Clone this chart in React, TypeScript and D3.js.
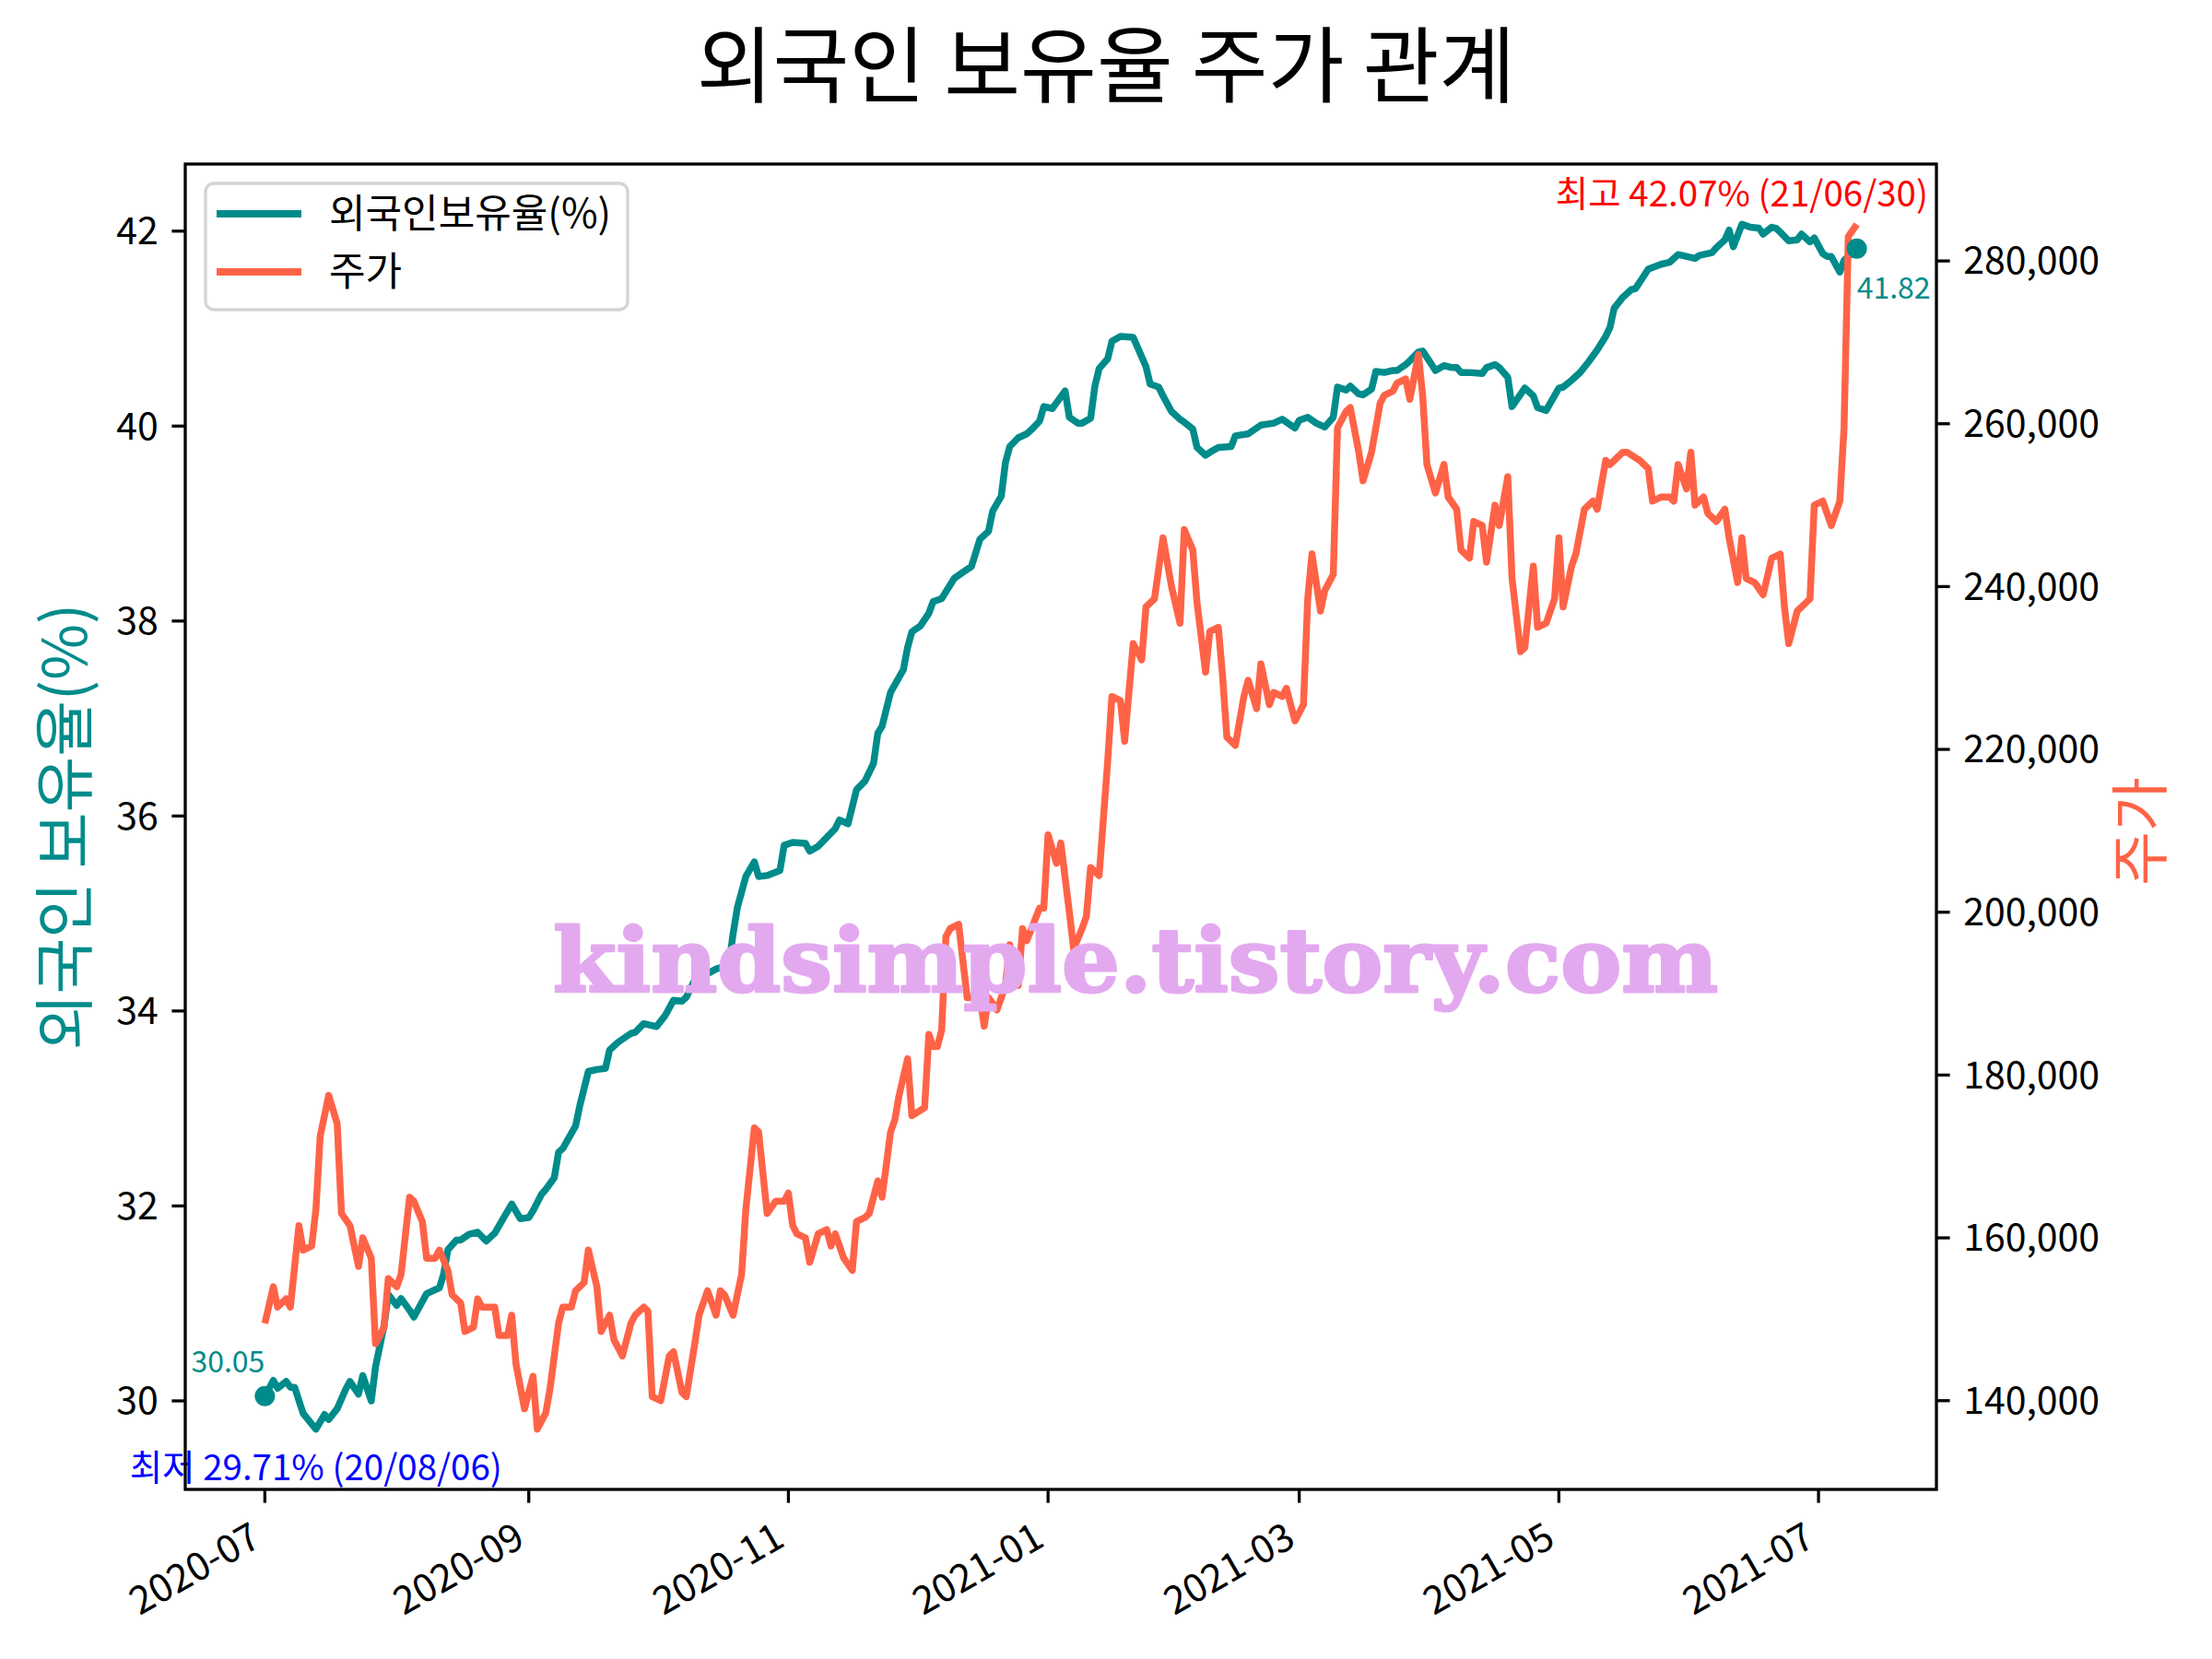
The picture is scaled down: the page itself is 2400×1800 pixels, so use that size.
import * as d3 from 'd3'

// 외국인 보유율(%)
const foreignRatio: [string, number][] = [
  ['2020-07-01', 30.05], ['2020-07-03', 30.21], ['2020-07-04', 30.13], ['2020-07-06', 30.2],
  ['2020-07-07', 30.14], ['2020-07-08', 30.14], ['2020-07-10', 29.87], ['2020-07-13', 29.71],
  ['2020-07-15', 29.86], ['2020-07-16', 29.81], ['2020-07-18', 29.92], ['2020-07-20', 30.12],
  ['2020-07-21', 30.2], ['2020-07-23', 30.07], ['2020-07-24', 30.26], ['2020-07-26', 30.0],
  ['2020-07-27', 30.35], ['2020-07-29', 30.77], ['2020-07-30', 31.09], ['2020-08-01', 30.98],
  ['2020-08-02', 31.05], ['2020-08-04', 30.93], ['2020-08-05', 30.86], ['2020-08-08', 31.1],
  ['2020-08-11', 31.16], ['2020-08-12', 31.3], ['2020-08-13', 31.55], ['2020-08-15', 31.65],
  ['2020-08-16', 31.65], ['2020-08-18', 31.71], ['2020-08-20', 31.73], ['2020-08-22', 31.64],
  ['2020-08-24', 31.72], ['2020-08-26', 31.87], ['2020-08-28', 32.02], ['2020-08-30', 31.87],
  ['2020-09-01', 31.88], ['2020-09-02', 31.95], ['2020-09-04', 32.12], ['2020-09-05', 32.17],
  ['2020-09-07', 32.29], ['2020-09-08', 32.55], ['2020-09-09', 32.59], ['2020-09-12', 32.82],
  ['2020-09-13', 33.03], ['2020-09-15', 33.38], ['2020-09-17', 33.4], ['2020-09-19', 33.41],
  ['2020-09-20', 33.6], ['2020-09-22', 33.68], ['2020-09-25', 33.77], ['2020-09-26', 33.78],
  ['2020-09-28', 33.87], ['2020-10-01', 33.84], ['2020-10-03', 33.95], ['2020-10-05', 34.11],
  ['2020-10-07', 34.1], ['2020-10-08', 34.14], ['2020-10-10', 34.32], ['2020-10-12', 34.36],
  ['2020-10-15', 34.43], ['2020-10-18', 34.47], ['2020-10-19', 34.79], ['2020-10-20', 35.06],
  ['2020-10-22', 35.38], ['2020-10-24', 35.53], ['2020-10-25', 35.38], ['2020-10-27', 35.39],
  ['2020-10-30', 35.44], ['2020-10-31', 35.7], ['2020-11-02', 35.73], ['2020-11-05', 35.72],
  ['2020-11-06', 35.64], ['2020-11-08', 35.69], ['2020-11-10', 35.78], ['2020-11-12', 35.87],
  ['2020-11-13', 35.96], ['2020-11-15', 35.92], ['2020-11-17', 36.27], ['2020-11-19', 36.36],
  ['2020-11-21', 36.54], ['2020-11-22', 36.85], ['2020-11-23', 36.92], ['2020-11-25', 37.27],
  ['2020-11-28', 37.5], ['2020-11-29', 37.73], ['2020-11-30', 37.89], ['2020-12-02', 37.95],
  ['2020-12-04', 38.08], ['2020-12-05', 38.2], ['2020-12-07', 38.23], ['2020-12-10', 38.44],
  ['2020-12-12', 38.5], ['2020-12-14', 38.56], ['2020-12-16', 38.84], ['2020-12-18', 38.92],
  ['2020-12-19', 39.13], ['2020-12-21', 39.28], ['2020-12-22', 39.63], ['2020-12-23', 39.79],
  ['2020-12-25', 39.88], ['2020-12-27', 39.92], ['2020-12-28', 39.96], ['2020-12-30', 40.05],
  ['2020-12-31', 40.2], ['2021-01-02', 40.18], ['2021-01-03', 40.24], ['2021-01-05', 40.36],
  ['2021-01-06', 40.09], ['2021-01-08', 40.03], ['2021-01-09', 40.03], ['2021-01-11', 40.08],
  ['2021-01-12', 40.41], ['2021-01-13', 40.59], ['2021-01-15', 40.69], ['2021-01-16', 40.87],
  ['2021-01-18', 40.92], ['2021-01-21', 40.91], ['2021-01-24', 40.61], ['2021-01-25', 40.43],
  ['2021-01-27', 40.4], ['2021-01-28', 40.31], ['2021-01-30', 40.15], ['2021-02-01', 40.07],
  ['2021-02-02', 40.04], ['2021-02-04', 39.97], ['2021-02-05', 39.78], ['2021-02-07', 39.7],
  ['2021-02-08', 39.73], ['2021-02-10', 39.78], ['2021-02-13', 39.79], ['2021-02-14', 39.9],
  ['2021-02-17', 39.92], ['2021-02-20', 40.01], ['2021-02-23', 40.03], ['2021-02-25', 40.07],
  ['2021-02-28', 39.98], ['2021-03-01', 40.06], ['2021-03-03', 40.09], ['2021-03-05', 40.03],
  ['2021-03-07', 39.99], ['2021-03-09', 40.09], ['2021-03-10', 40.4], ['2021-03-12', 40.37],
  ['2021-03-13', 40.41], ['2021-03-15', 40.33], ['2021-03-16', 40.32], ['2021-03-18', 40.38],
  ['2021-03-19', 40.56], ['2021-03-21', 40.55], ['2021-03-23', 40.57], ['2021-03-24', 40.57],
  ['2021-03-26', 40.63], ['2021-03-27', 40.67], ['2021-03-29', 40.76], ['2021-03-30', 40.77],
  ['2021-04-01', 40.64], ['2021-04-02', 40.57], ['2021-04-04', 40.62], ['2021-04-06', 40.6],
  ['2021-04-07', 40.6], ['2021-04-08', 40.55], ['2021-04-10', 40.55], ['2021-04-13', 40.54],
  ['2021-04-14', 40.6], ['2021-04-16', 40.63], ['2021-04-17', 40.6], ['2021-04-19', 40.5],
  ['2021-04-20', 40.2], ['2021-04-23', 40.39], ['2021-04-25', 40.31], ['2021-04-26', 40.19],
  ['2021-04-28', 40.16], ['2021-05-01', 40.39], ['2021-05-02', 40.4], ['2021-05-04', 40.47],
  ['2021-05-06', 40.55], ['2021-05-08', 40.66], ['2021-05-10', 40.78], ['2021-05-12', 40.92],
  ['2021-05-13', 41.01], ['2021-05-14', 41.21], ['2021-05-16', 41.32], ['2021-05-18', 41.4],
  ['2021-05-19', 41.41], ['2021-05-22', 41.61], ['2021-05-25', 41.66], ['2021-05-27', 41.68],
  ['2021-05-29', 41.76], ['2021-06-02', 41.72], ['2021-06-03', 41.75], ['2021-06-06', 41.78],
  ['2021-06-07', 41.83], ['2021-06-09', 41.91], ['2021-06-10', 42.01], ['2021-06-11', 41.84],
  ['2021-06-13', 42.07], ['2021-06-15', 42.04], ['2021-06-17', 42.03], ['2021-06-18', 41.97],
  ['2021-06-20', 42.04], ['2021-06-21', 42.03], ['2021-06-22', 41.99], ['2021-06-24', 41.9],
  ['2021-06-26', 41.91], ['2021-06-27', 41.97], ['2021-06-29', 41.89], ['2021-06-30', 41.93],
  ['2021-07-02', 41.77], ['2021-07-03', 41.74], ['2021-07-04', 41.74], ['2021-07-06', 41.58],
  ['2021-07-07', 41.7], ['2021-07-10', 41.82],
]

// 주가
const stockPrice: [string, number][] = [
  ['2020-07-01', 149500], ['2020-07-03', 154000], ['2020-07-04', 151500], ['2020-07-06', 152500],
  ['2020-07-07', 151500], ['2020-07-09', 161500], ['2020-07-10', 158500], ['2020-07-12', 159000],
  ['2020-07-13', 163500], ['2020-07-14', 172500], ['2020-07-16', 177500], ['2020-07-18', 174000],
  ['2020-07-19', 163000], ['2020-07-21', 161500], ['2020-07-23', 156500], ['2020-07-24', 160000],
  ['2020-07-26', 157500], ['2020-07-27', 147000], ['2020-07-29', 149000], ['2020-07-30', 155000],
  ['2020-08-01', 154000], ['2020-08-02', 155500], ['2020-08-04', 165000], ['2020-08-05', 164500],
  ['2020-08-07', 162000], ['2020-08-08', 157500], ['2020-08-10', 157500], ['2020-08-11', 158500],
  ['2020-08-13', 156000], ['2020-08-14', 153000], ['2020-08-16', 152000], ['2020-08-17', 148500],
  ['2020-08-19', 149000], ['2020-08-20', 152500], ['2020-08-21', 151500], ['2020-08-24', 151500],
  ['2020-08-25', 148000], ['2020-08-27', 148000], ['2020-08-28', 150500], ['2020-08-29', 144500],
  ['2020-08-31', 139000], ['2020-09-02', 143000], ['2020-09-03', 136500], ['2020-09-05', 138500],
  ['2020-09-06', 141500], ['2020-09-08', 149500], ['2020-09-09', 151500], ['2020-09-11', 151500],
  ['2020-09-12', 153500], ['2020-09-14', 154500], ['2020-09-15', 158500], ['2020-09-17', 154000],
  ['2020-09-18', 148500], ['2020-09-20', 150500], ['2020-09-21', 147500], ['2020-09-23', 145500],
  ['2020-09-25', 149500], ['2020-09-26', 150500], ['2020-09-28', 151500], ['2020-09-29', 151000],
  ['2020-09-30', 140500], ['2020-10-02', 140000], ['2020-10-04', 145500], ['2020-10-05', 146000],
  ['2020-10-07', 141000], ['2020-10-08', 140500], ['2020-10-10', 147000], ['2020-10-11', 150500],
  ['2020-10-13', 153500], ['2020-10-15', 150500], ['2020-10-16', 153500], ['2020-10-17', 153000],
  ['2020-10-19', 150500], ['2020-10-21', 155500], ['2020-10-22', 163500], ['2020-10-24', 173500],
  ['2020-10-25', 173000], ['2020-10-27', 163000], ['2020-10-29', 164500], ['2020-10-31', 164500],
  ['2020-11-01', 165500], ['2020-11-02', 161500], ['2020-11-03', 160500], ['2020-11-05', 160000],
  ['2020-11-06', 157000], ['2020-11-08', 160500], ['2020-11-10', 161000], ['2020-11-11', 159000],
  ['2020-11-12', 160500], ['2020-11-14', 157500], ['2020-11-16', 156000], ['2020-11-17', 162000],
  ['2020-11-19', 162500], ['2020-11-20', 163000], ['2020-11-22', 167000], ['2020-11-23', 165000],
  ['2020-11-25', 173000], ['2020-11-26', 174500], ['2020-11-27', 177500], ['2020-11-29', 182000],
  ['2020-11-30', 175000], ['2020-12-03', 176000], ['2020-12-04', 185000], ['2020-12-05', 183500],
  ['2020-12-06', 183500], ['2020-12-07', 185500], ['2020-12-08', 197000], ['2020-12-09', 198000],
  ['2020-12-11', 198500], ['2020-12-13', 189500], ['2020-12-16', 189500], ['2020-12-17', 186000],
  ['2020-12-18', 189500], ['2020-12-20', 188000], ['2020-12-22', 191000], ['2020-12-23', 196000],
  ['2020-12-25', 191000], ['2020-12-26', 198000], ['2020-12-27', 196500], ['2020-12-30', 200500],
  ['2020-12-31', 200500], ['2021-01-01', 209500], ['2021-01-03', 206000], ['2021-01-04', 208500],
  ['2021-01-06', 200000], ['2021-01-07', 195500], ['2021-01-09', 198000], ['2021-01-10', 199500],
  ['2021-01-11', 205500], ['2021-01-13', 204500], ['2021-01-15', 218500], ['2021-01-16', 226500],
  ['2021-01-18', 226000], ['2021-01-19', 221000], ['2021-01-21', 233000], ['2021-01-23', 231000],
  ['2021-01-24', 237500], ['2021-01-26', 238500], ['2021-01-28', 246000], ['2021-01-30', 240000],
  ['2021-02-01', 235500], ['2021-02-02', 247000], ['2021-02-04', 244500], ['2021-02-05', 238000],
  ['2021-02-07', 229500], ['2021-02-08', 234500], ['2021-02-10', 235000], ['2021-02-11', 229000],
  ['2021-02-12', 221500], ['2021-02-14', 220500], ['2021-02-16', 226500], ['2021-02-17', 228500],
  ['2021-02-19', 225000], ['2021-02-20', 230500], ['2021-02-22', 225500], ['2021-02-23', 227000],
  ['2021-02-25', 226500], ['2021-02-26', 227500], ['2021-02-28', 223500], ['2021-03-02', 225500],
  ['2021-03-03', 238500], ['2021-03-04', 244000], ['2021-03-06', 237000], ['2021-03-07', 239500],
  ['2021-03-09', 241500], ['2021-03-10', 259500], ['2021-03-12', 261500], ['2021-03-13', 262000],
  ['2021-03-15', 256500], ['2021-03-16', 253000], ['2021-03-18', 256500], ['2021-03-20', 262500],
  ['2021-03-21', 263500], ['2021-03-23', 264000], ['2021-03-24', 265000], ['2021-03-26', 265500],
  ['2021-03-27', 263000], ['2021-03-29', 268500], ['2021-03-30', 263500], ['2021-03-31', 255000],
  ['2021-04-02', 251500], ['2021-04-04', 255000], ['2021-04-05', 251000], ['2021-04-07', 249500],
  ['2021-04-08', 244500], ['2021-04-10', 243500], ['2021-04-11', 248000], ['2021-04-13', 247500],
  ['2021-04-14', 243000], ['2021-04-16', 250000], ['2021-04-17', 247500], ['2021-04-19', 253500],
  ['2021-04-20', 241000], ['2021-04-22', 232000], ['2021-04-23', 232500], ['2021-04-25', 242500],
  ['2021-04-26', 235000], ['2021-04-28', 235500], ['2021-04-30', 238500], ['2021-05-01', 246000],
  ['2021-05-02', 237500], ['2021-05-04', 242500], ['2021-05-05', 244000], ['2021-05-07', 249500],
  ['2021-05-09', 250500], ['2021-05-10', 249500], ['2021-05-12', 255500], ['2021-05-13', 255000],
  ['2021-05-16', 256500], ['2021-05-17', 256500], ['2021-05-20', 255500], ['2021-05-22', 254500],
  ['2021-05-23', 250500], ['2021-05-25', 251000], ['2021-05-27', 251000], ['2021-05-28', 250500],
  ['2021-05-29', 255000], ['2021-05-31', 252000], ['2021-06-01', 256500], ['2021-06-02', 250000],
  ['2021-06-04', 251000], ['2021-06-05', 249000], ['2021-06-07', 248000], ['2021-06-09', 249500],
  ['2021-06-10', 246000], ['2021-06-12', 240500], ['2021-06-13', 246000], ['2021-06-14', 241000],
  ['2021-06-16', 240500], ['2021-06-18', 239000], ['2021-06-20', 243500], ['2021-06-22', 244000],
  ['2021-06-23', 237500], ['2021-06-24', 233000], ['2021-06-26', 237000], ['2021-06-28', 238000],
  ['2021-06-29', 238500], ['2021-06-30', 250000], ['2021-07-02', 250500], ['2021-07-04', 247500],
  ['2021-07-06', 250500], ['2021-07-07', 259500], ['2021-07-08', 283000], ['2021-07-10', 284500],
]

const ratioTicks = [30, 32, 34, 36, 38, 40, 42]
const priceTicks = [140000, 160000, 180000, 200000, 220000, 240000, 260000, 280000]

const chartTitle = '외국인 보유율 주가 관계'
const ratioLabel = '외국인 보유율(%)'
const priceLabel = '주가'
const legendNames = ['외국인보유율(%)', '주가']
const maxNote = '최고 42.07% (21/06/30)'
const minNote = '최저 29.71% (20/08/06)'
const watermark = 'kindsimple.tistory.com'

const TEAL = '#008b8b'
const TOMATO = '#ff6347'
const FONT = '"Noto Sans CJK KR", "Noto Sans", sans-serif'

const W = 2400
const H = 1800
const plot = { left: 201, right: 2101, top: 178, bottom: 1616 }

const parse = d3.timeParse('%Y-%m-%d')

// matplotlib style 5% padding around the data range
function padded(ext: [number, number]): [number, number] {
  const m = (ext[1] - ext[0]) * 0.05
  return [ext[0] - m, ext[1] + m]
}

export default function App() {
  const ratio = foreignRatio.map(([d, v]) => ({ date: parse(d) as Date, value: v }))
  const price = stockPrice.map(([d, v]) => ({ date: parse(d) as Date, value: v }))

  const tExt = d3.extent(ratio.concat(price), (d) => +d.date) as [number, number]
  const x = d3.scaleTime()
    .domain(padded(tExt).map((t) => new Date(t)))
    .range([plot.left, plot.right])
  const yL = d3.scaleLinear()
    .domain(padded(d3.extent(ratio, (d) => d.value) as [number, number]))
    .range([plot.bottom, plot.top])
  const yR = d3.scaleLinear()
    .domain(padded(d3.extent(price, (d) => d.value) as [number, number]))
    .range([plot.bottom, plot.top])

  const ratioLine = d3.line<{ date: Date; value: number }>()
    .x((d) => x(d.date))
    .y((d) => yL(d.value))
  const priceLine = d3.line<{ date: Date; value: number }>()
    .x((d) => x(d.date))
    .y((d) => yR(d.value))

  const xTicks = x.ticks(d3.timeMonth.every(2) as d3.TimeInterval)
  const fmtMonth = d3.timeFormat('%Y-%m')
  const fmtPrice = d3.format(',')

  const first = ratio[0]
  const last = ratio[ratio.length - 1]
  const hi = d3.greatest(ratio, (d) => d.value)!
  const lo = d3.least(ratio, (d) => d.value)!

  const tick = 14.6
  const pad = 14.6

  return (
    <div>
      <style>{'body{margin:0}'}</style>
      <svg width={W} height={H} viewBox={`0 0 ${W} ${H}`} style={{ display: 'block', background: '#fff' }} fontFamily={FONT}>
        <rect x={0} y={0} width={W} height={H} fill="#fff" />

        <text x={W / 2} y={104} textAnchor="middle" fontSize={90} fill="#000">{chartTitle}</text>

        {/* lines */}
        <path d={ratioLine(ratio) ?? ''} fill="none" stroke={TEAL} strokeWidth={7.5} strokeLinejoin="round" />
        <path d={priceLine(price) ?? ''} fill="none" stroke={TOMATO} strokeWidth={7.5} strokeLinejoin="round" />

        {/* start / end markers */}
        <circle cx={x(first.date)} cy={yL(first.value)} r={11} fill={TEAL} />
        <circle cx={x(last.date)} cy={yL(last.value)} r={11} fill={TEAL} />
        <text x={x(first.date)} y={yL(first.value) - 26} textAnchor="end" fontSize={32} fill={TEAL}>
          {first.value.toFixed(2)}
        </text>
        <text x={x(last.date)} y={yL(last.value) + 54} textAnchor="start" fontSize={32} fill={TEAL}>
          {last.value.toFixed(2)}
        </text>

        {/* max / min notes */}
        <text x={x(hi.date)} y={yL(hi.value) - 19} textAnchor="middle" fontSize={38.5} fill="#ff0000">{maxNote}</text>
        <text x={x(lo.date)} y={yL(lo.value) + 55} textAnchor="middle" fontSize={38.5} fill="#0000ff">{minNote}</text>

        {/* frame */}
        <rect x={plot.left} y={plot.top} width={plot.right - plot.left} height={plot.bottom - plot.top}
          fill="none" stroke="#000" strokeWidth={3.3} />

        {/* left axis */}
        {ratioTicks.map((t) => (
          <g key={'l' + t}>
            <line x1={plot.left - tick} x2={plot.left} y1={yL(t)} y2={yL(t)} stroke="#000" strokeWidth={3.3} />
            <text x={plot.left - tick - pad} y={yL(t)} dy="0.35em" textAnchor="end" fontSize={41} fill="#000">{t}</text>
          </g>
        ))}

        {/* right axis */}
        {priceTicks.map((t) => (
          <g key={'r' + t}>
            <line x1={plot.right} x2={plot.right + tick} y1={yR(t)} y2={yR(t)} stroke="#000" strokeWidth={3.3} />
            <text x={plot.right + tick + pad} y={yR(t)} dy="0.35em" textAnchor="start" fontSize={41} fill="#000">{fmtPrice(t)}</text>
          </g>
        ))}

        {/* bottom axis */}
        {xTicks.map((t) => (
          <g key={'x' + +t}>
            <line x1={x(t)} x2={x(t)} y1={plot.bottom} y2={plot.bottom + tick} stroke="#000" strokeWidth={3.3} />
            <text transform={`translate(${x(t) - 2},${plot.bottom + 60}) rotate(-30)`} textAnchor="end" fontSize={42} fill="#000">
              {fmtMonth(t)}
            </text>
          </g>
        ))}

        {/* axis labels */}
        <text transform={`translate(${94},${(plot.top + plot.bottom) / 2}) rotate(-90)`} textAnchor="middle" fontSize={66} fill={TEAL}>
          {ratioLabel}
        </text>
        <text transform={`translate(${2345},${(plot.top + plot.bottom) / 2 + 5}) rotate(-90)`} textAnchor="middle" fontSize={64} fill={TOMATO}>
          {priceLabel}
        </text>

        {/* legend */}
        <g>
          <rect x={223} y={199} width={458} height={137} rx={9} fill="#fff" fillOpacity={0.8} stroke="#d4d4d4" strokeWidth={3.3} />
          {legendNames.map((name, i) => (
            <g key={name}>
              <line x1={235} x2={327} y1={232 + i * 63} y2={232 + i * 63} stroke={i === 0 ? TEAL : TOMATO} strokeWidth={8} />
              <text x={357} y={232 + i * 63} dy="0.36em" fontSize={43} fill="#000">{name}</text>
            </g>
          ))}
        </g>

        {/* watermark */}
        <text x={600} y={1076} textLength={1264} lengthAdjust="spacingAndGlyphs" fontSize={96}
          fontFamily='"DejaVu Serif", serif' fontWeight={900} fill="#e3a9ef" stroke="#e3a9ef" strokeWidth={3}
          strokeLinejoin="round">
          {watermark}
        </text>
      </svg>
    </div>
  )
}
